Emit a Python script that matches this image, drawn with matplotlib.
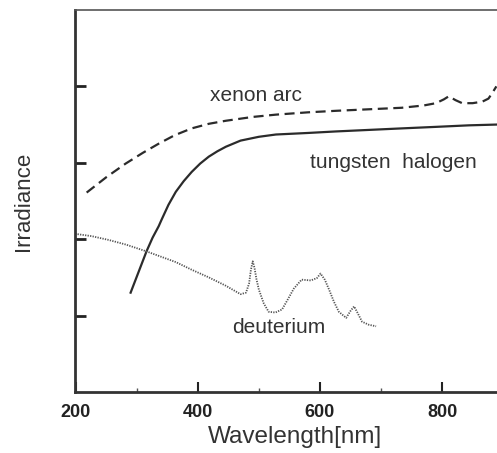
import matplotlib
matplotlib.use("Agg")
import matplotlib.pyplot as plt
from matplotlib.ticker import MultipleLocator, NullFormatter

plt.rcParams['font.family'] = ['Liberation Sans', 'DejaVu Sans']

# Xenon arc (dashed)
xenon_x = [218, 250, 282, 310, 336, 362, 390, 418, 446, 490, 528, 580, 626, 680, 734, 770, 790, 803, 811, 822, 833, 850, 866, 876, 882, 889]
xenon_y = [2.61, 2.81, 2.99, 3.13, 3.25, 3.36, 3.45, 3.51, 3.55, 3.60, 3.63, 3.66, 3.68, 3.70, 3.72, 3.75, 3.78, 3.83, 3.87, 3.82, 3.78, 3.78, 3.80, 3.84, 3.91, 4.00]

# Tungsten halogen (solid)
tung_x = [290, 303, 316, 326, 336, 341, 352, 364, 377, 390, 404, 418, 432, 446, 470, 500, 528, 580, 626, 680, 734, 790, 844, 889]
tung_y = [1.30, 1.57, 1.84, 2.02, 2.17, 2.26, 2.45, 2.62, 2.76, 2.88, 2.99, 3.08, 3.15, 3.21, 3.29, 3.34, 3.37, 3.39, 3.41, 3.43, 3.45, 3.47, 3.49, 3.50]

# Deuterium (dotted)
deut_x = [199, 226, 254, 282, 316, 340, 364, 390, 418, 446, 470, 479, 484, 487, 490, 493, 496, 500, 508, 516, 527, 538, 548, 557, 570, 585, 595, 601, 608, 615, 623, 631, 643, 650, 656, 662, 669, 680, 692]
deut_y = [2.07, 2.04, 1.99, 1.93, 1.84, 1.77, 1.70, 1.60, 1.50, 1.39, 1.28, 1.30, 1.42, 1.60, 1.71, 1.62, 1.48, 1.34, 1.16, 1.05, 1.04, 1.08, 1.22, 1.35, 1.47, 1.46, 1.49, 1.55, 1.47, 1.34, 1.18, 1.05, 0.97, 1.06, 1.12, 1.03, 0.92, 0.88, 0.86]

xticks = [200, 400, 600, 800]
xtick_labels = ['200', '400', '600', '800']

fig = plt.figure(figsize=(4.97, 4.53), dpi=100)
ax = fig.add_axes([0.151, 0.1347, 0.849, 0.8433])

ink = '#2b2b2b'
ax.plot(xenon_x, xenon_y, color=ink, lw=1.6, linestyle=(0, (4.5, 2.5)))
ax.plot(tung_x, tung_y, color=ink, lw=1.6)
ax.plot(deut_x, deut_y, color='#555555', lw=1.3, linestyle=(0, (0.7, 0.7)))

ax.set_xlim(199, 890)
ax.set_ylim(0, 5)

ax.set_xticks(xticks)
ax.set_xticklabels(xtick_labels, fontsize=13, fontweight='bold', color='#222222')
ax.xaxis.set_minor_locator(MultipleLocator(100))
ax.set_yticks([1, 2, 3, 4])
ax.yaxis.set_major_formatter(NullFormatter())
ax.tick_params(axis='x', which='major', direction='in', length=7, width=1.5, pad=9, colors='#222222')
ax.tick_params(axis='x', which='minor', direction='in', length=3, width=1.0, colors='#555555')
ax.tick_params(axis='y', which='major', direction='in', length=8, width=2, colors='#222222')
ax.tick_params(axis='y', which='minor', left=False)

for s in ['left', 'bottom']:
    ax.spines[s].set_linewidth(2)
    ax.spines[s].set_color('#333333')
ax.spines['top'].set_linewidth(1.2)
ax.spines['top'].set_color('#555555')
ax.spines['right'].set_visible(False)

ax.set_xlabel('Wavelength[nm]', fontsize=17.5, color='#333333', labelpad=3)
ax.xaxis.label.set_x(0.521)
ax.set_ylabel('Irradiance', fontsize=16, color='#333333', labelpad=26)

ax.text(0.32, 0.777, 'xenon arc', transform=ax.transAxes, fontsize=15, color='#333333', va='center')
ax.text(0.557, 0.60, 'tungsten  halogen', transform=ax.transAxes, fontsize=15, color='#333333', va='center')
ax.text(0.372, 0.168, 'deuterium', transform=ax.transAxes, fontsize=15, color='#333333', va='center')

fig.savefig('out.png', dpi=100)
